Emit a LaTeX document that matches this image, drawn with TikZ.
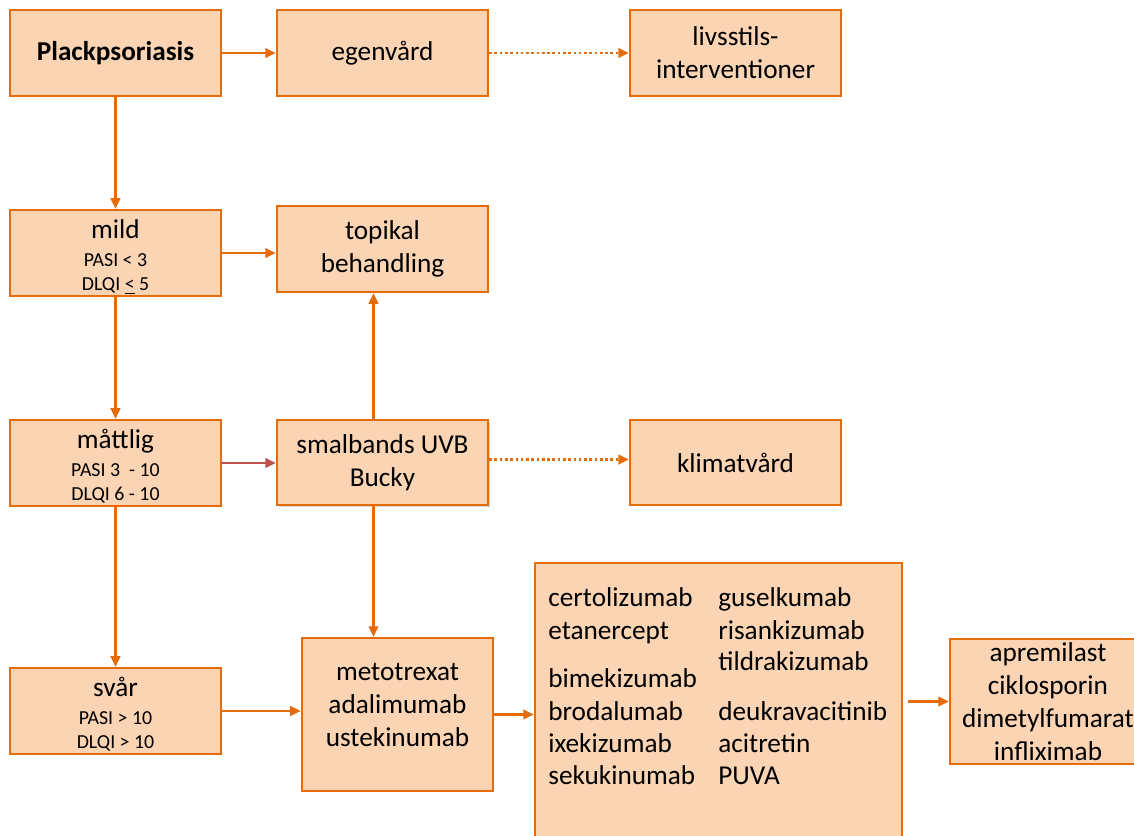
\documentclass[tikz,border=0pt]{standalone}
\usepackage{fontspec}
\setmainfont{Carlito}
\usetikzlibrary{arrows.meta,shadows}
\definecolor{boxfill}{HTML}{FBD4B4}
\definecolor{boxline}{HTML}{E46C0A}
\definecolor{redarrow}{HTML}{C0504D}
\newcommand{\smalltxt}{\fontsize{11.3}{13.7}\selectfont}

\begin{document}
\begin{tikzpicture}[x=0.02cm,y=-0.02cm,
    box/.style={draw=boxline,fill=boxfill,line width=1.4pt,minimum width=4.22cm,minimum height=1.72cm,align=center,inner sep=0pt,font=\fontsize{15.5}{18.8}\selectfont},
    listtext/.style={anchor=west,inner sep=0pt,text height=0.75em,text depth=0.2em,font=\fontsize{15.5}{18.8}\selectfont},
    arr/.style={draw=boxline,line width=1.3pt,-{Triangle[length=6pt,width=5.5pt]}},
    dotarr/.style={arr,line width=1.5pt,dash pattern=on 1.5pt off 1.5pt}]
    \useasboundingbox (0,0) rectangle (1134,836);
    % top row
    \node[box,font=\fontsize{15.5}{18.8}\selectfont\bfseries] (plack) at (115.5,53) {Plackpsoriasis};
    \node[box] (egen) at (382.5,53) {egenvård};
    \node[box] (livs) at (735.5,53) {livsstils-\\interventioner};
    % severity column
    \node[box] (mild) at (115.5,253) {\rule{0pt}{15pt}mild\\[-3pt]{\smalltxt PASI < 3}\\[-5pt]{\smalltxt DLQI \underline{<} 5}};
    \node[box] (mattlig) at (115.5,463) {\rule{0pt}{15pt}måttlig\\[-3pt]{\smalltxt PASI 3~ - 10}\\[-5pt]{\smalltxt DLQI 6 - 10}};
    \node[box] (svar) at (115.5,711) {\rule{0pt}{15pt}svår\\[-3pt]{\smalltxt PASI > 10}\\[-5pt]{\smalltxt DLQI > 10}};
    % treatments
    \node[box] (topikal) at (382.5,249) {topikal\\behandling};
    \node[box,minimum height=1.7cm,drop shadow={shadow xshift=1.2pt,shadow yshift=-1.2pt,opacity=0.3}] (uvb) at (382.5,462.5) {smalbands UVB\\Bucky};
    \node[box,minimum height=1.7cm] (klimat) at (735.5,462.5) {klimatvård};
    \node[box,minimum width=3.82cm,minimum height=3.06cm] (meto) at (397.5,714.5) {metotrexat\\adalimumab\\ustekinumab\\[-8pt]\mbox{}};
    \node[box,minimum width=7.34cm,minimum height=6.34cm] (lista) at (718.5,721.5) {};
    \node[box,minimum width=3.92cm,minimum height=2.5cm] (apre) at (1048,701.5) {apremilast\\ciklosporin\\dimetylfumarat\\infliximab};
    % drug names in the big box
    \foreach \drug/\y [count=\i] in {certolizumab/602,etanercept/635,bimekizumab/683,brodalumab/716,ixekizumab/748,sekukinumab/780}
        \node[listtext] (v\i) at (548,\y) {\drug};
    \foreach \drug/\y [count=\i] in {guselkumab/602,risankizumab/635,tildrakizumab/666,deukravacitinib/716,acitretin/748,PUVA/780}
        \node[listtext] (h\i) at (718,\y) {\drug};
    % connectors
    \draw[arr] (plack) -- (egen);
    \draw[dotarr] (egen) -- (livs);
    \draw[arr] (plack) -- (mild);
    \draw[arr] (mild.east) -- (mild.east -| topikal.west);
    \draw[arr] (mild) -- (mattlig);
    \draw[arr,draw=redarrow] (mattlig.east) -- (mattlig.east -| uvb.west);
    \draw[arr] ([xshift=-0.18cm]uvb.north) -- ([xshift=-0.18cm]uvb.north |- topikal.south);
    \draw[dotarr] ([yshift=0.06cm]uvb.east) -- ([yshift=0.06cm]uvb.east -| klimat.west);
    \draw[arr] ([xshift=-0.18cm]uvb.south) -- ([xshift=-0.18cm]uvb.south |- meto.north);
    \draw[arr] (mattlig) -- (svar);
    \draw[arr] (svar.east) -- (svar.east -| meto.west);
    \draw[arr] (meto.east) -- (meto.east -| lista.west);
    \draw[arr,shorten <=3pt] (lista.east |- apre.west) -- (apre.west);
\end{tikzpicture}
\end{document}
